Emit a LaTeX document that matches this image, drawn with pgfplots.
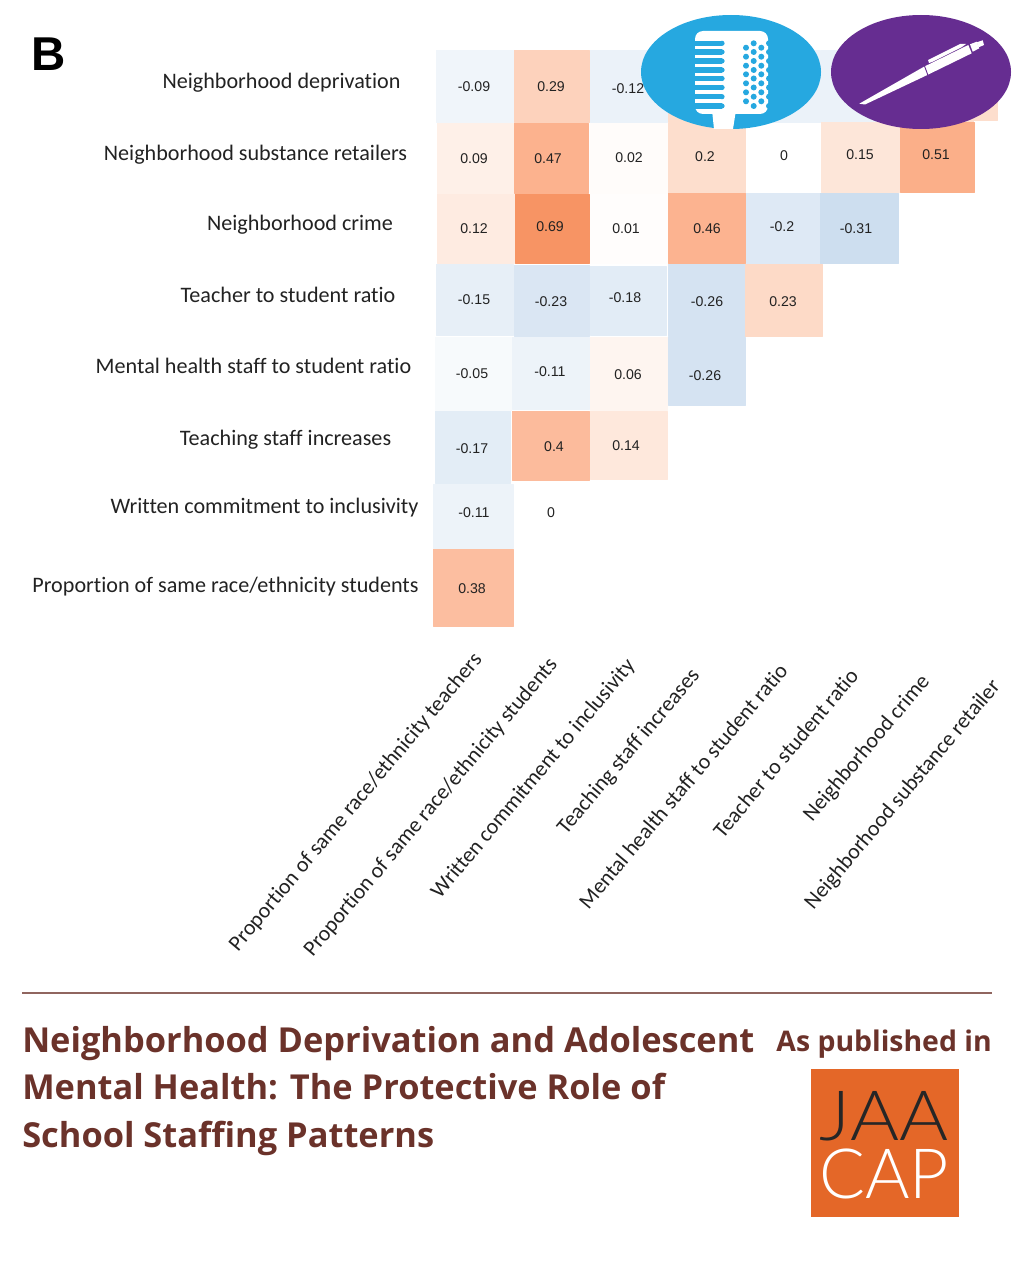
\documentclass[border=0pt]{standalone}
\usepackage{fontspec}
\usepackage{pgfplots}
\pgfplotsset{compat=1.18}
\setmainfont{Liberation Sans}
\newfontfamily\lab[Ligatures=NoCommon]{Carlito}
\newfontfamily\ttl{Open Sans}
\newfontfamily\logo{Lato Light}
\definecolor{brown1}{RGB}{107,50,42}
\definecolor{micblue}{RGB}{38,168,224}
\definecolor{penpurple}{RGB}{102,45,145}
\definecolor{logoorange}{RGB}{228,103,40}
\definecolor{ink}{RGB}{34,34,34}
\begin{document}
\begin{tikzpicture}
\begin{axis}[
  scale only axis, width=768pt, height=960pt,
  xmin=0, xmax=1024, ymin=0, ymax=1280, y dir=reverse,
  axis lines=none, clip=false,
  point meta min=-0.4, point meta max=0.69,
  colormap={corr}{rgb255(0)=(190,212,235) rgb255(40)=(255,255,255) rgb255(49)=(254,240,232) rgb255(60)=(253,222,205) rgb255(69)=(253,210,188) rgb255(78)=(252,190,160) rgb255(87)=(252,178,142) rgb255(91)=(251,175,137) rgb255(109)=(247,148,100)},
]
\path (axis cs:0,0) rectangle (axis cs:1024,1280);
% cells: left, top, right, bottom corners with the correlation as meta
\addplot[patch, patch type=rectangle, shader=flat, point meta=explicit] table[row sep=\\, meta=v] {
x y v\\
436 50 -0.09\\ 513 50 -0.09\\ 513 122 -0.09\\ 436 122 -0.09\\
514 50 0.29\\ 589 50 0.29\\ 589 122 0.29\\ 514 122 0.29\\
590 50 -0.12\\ 667 50 -0.12\\ 667 122 -0.12\\ 590 122 -0.12\\
668 50 0.2\\ 745 50 0.2\\ 745 122 0.2\\ 668 122 0.2\\
745 50 -0.12\\ 820 50 -0.12\\ 820 122 -0.12\\ 745 122 -0.12\\
821 50 -0.12\\ 897 50 -0.12\\ 897 122 -0.12\\ 821 122 -0.12\\
898 50 0.2\\ 973 50 0.2\\ 973 122 0.2\\ 898 122 0.2\\
973 50 0.2\\ 997 50 0.2\\ 997 120 0.2\\ 973 120 0.2\\
437 123 0.09\\ 513 123 0.09\\ 513 193 0.09\\ 437 193 0.09\\
514 123 0.47\\ 588 123 0.47\\ 588 193 0.47\\ 514 193 0.47\\
590 123 0.02\\ 667 123 0.02\\ 667 193 0.02\\ 590 193 0.02\\
668 123 0.2\\ 745 123 0.2\\ 745 193 0.2\\ 668 193 0.2\\
746 123 0\\ 821 123 0\\ 821 193 0\\ 746 193 0\\
821 122 0.15\\ 899 122 0.15\\ 899 192 0.15\\ 821 192 0.15\\
900 122 0.51\\ 974 122 0.51\\ 974 192 0.51\\ 900 192 0.51\\
437 194 0.12\\ 514 194 0.12\\ 514 263 0.12\\ 437 263 0.12\\
515 194 0.69\\ 589 194 0.69\\ 589 263 0.69\\ 515 263 0.69\\
590 194 0.01\\ 667 194 0.01\\ 667 263 0.01\\ 590 263 0.01\\
668 193 0.46\\ 745 193 0.46\\ 745 263 0.46\\ 668 263 0.46\\
746 193 -0.2\\ 820 193 -0.2\\ 820 263 -0.2\\ 746 263 -0.2\\
820 193 -0.31\\ 898 193 -0.31\\ 898 263 -0.31\\ 820 263 -0.31\\
436 264 -0.15\\ 513 264 -0.15\\ 513 335 -0.15\\ 436 335 -0.15\\
514 265 -0.23\\ 589 265 -0.23\\ 589 336 -0.23\\ 514 336 -0.23\\
590 266 -0.18\\ 666 266 -0.18\\ 666 335 -0.18\\ 590 335 -0.18\\
668 264 -0.26\\ 745 264 -0.26\\ 745 336 -0.26\\ 668 336 -0.26\\
745 264 0.23\\ 822 264 0.23\\ 822 336 0.23\\ 745 336 0.23\\
435 337 -0.05\\ 511 337 -0.05\\ 511 410 -0.05\\ 435 410 -0.05\\
512 337 -0.11\\ 589 337 -0.11\\ 589 409 -0.11\\ 512 409 -0.11\\
590 337 0.06\\ 667 337 0.06\\ 667 410 0.06\\ 590 410 0.06\\
668 337 -0.26\\ 745 337 -0.26\\ 745 405 -0.26\\ 668 405 -0.26\\
435 411 -0.17\\ 510 411 -0.17\\ 510 483 -0.17\\ 435 483 -0.17\\
512 411 0.4\\ 589 411 0.4\\ 589 480 0.4\\ 512 480 0.4\\
590 411 0.14\\ 667 411 0.14\\ 667 479 0.14\\ 590 479 0.14\\
433 484 -0.11\\ 513 484 -0.11\\ 513 548 -0.11\\ 433 548 -0.11\\
433 549 0.38\\ 513 549 0.38\\ 513 626 0.38\\ 433 626 0.38\\
};
% printed values
\addplot[draw=none, mark=none, point meta=explicit symbolic,
  nodes near coords, nodes near coords align={center},
  every node near coord/.append style={font=\fontsize{10.6pt}{12pt}\selectfont, text=ink, inner sep=0pt, anchor=center}]
coordinates {
(474,87)[-0.09] (551,87)[0.29] (628,89)[-0.12]
(474,159)[0.09] (548,159)[0.47] (629,158)[0.02] (705,157)[0.2] (784,156)[0] (860,155)[0.15] (936,155)[0.51]
(474,229)[0.12] (550,227)[0.69] (626,229)[0.01] (707,229)[0.46] (782,227)[-0.2] (856,229)[-0.31]
(474,300)[-0.15] (551,302)[-0.23] (625,298)[-0.18] (707,302)[-0.26] (783,302)[0.23]
(472,374)[-0.05] (550,372)[-0.11] (628,375)[0.06] (705,376)[-0.26]
(472,449)[-0.17] (554,447)[0.4] (626,446)[0.14]
(474,513)[-0.11] (551,513)[0]
(472,589)[0.38]
};
% row labels
\addplot[draw=none, mark=none, point meta=explicit symbolic,
  nodes near coords, nodes near coords align={center},
  every node near coord/.append style={font=\lab\fontsize{16.6pt}{18pt}\selectfont, text=ink, inner sep=0pt, anchor=center}]
coordinates {
(281.5,83)[Neighborhood deprivation]
(255.5,155)[Neighborhood substance retailers]
(300,225)[Neighborhood crime]
(288,295)[Teacher to student ratio]
(253.5,366)[Mental health staff to student ratio]
(285.5,440)[Teaching staff increases]
(264.5,508)[Written commitment to inclusivity]
(225.5,587)[Proportion of same race/ethnicity students]
};
% column labels
\addplot[draw=none, mark=none, point meta=explicit symbolic,
  nodes near coords, nodes near coords align={center},
  every node near coord/.append style={font=\lab\fontsize{16.4pt}{18pt}\selectfont, text=ink, inner sep=0pt, anchor=center, rotate=50}]
coordinates {
(356,802.5)[Proportion of same race/ethnicity teachers]
(431,807.5)[Proportion of same race/ethnicity students]
(533.5,779)[Written commitment to inclusivity]
(629,752)[Teaching staff increases]
(683,786)[Mental health staff to student ratio]
(785.5,753)[Teacher to student ratio]
(867,748.5)[Neighborhood crime]
(903,795)[Neighborhood substance retailer]
};
% panel letter
\node[font=\bfseries\fontsize{35.6pt}{36pt}\selectfont, inner sep=0pt, anchor=base west] at (axis cs:31,71) {B};
% microphone icon
\fill[micblue] (axis cs:731,72) ellipse [x radius=90, y radius=57];
\fill[white, rounded corners=6pt] (axis cs:695,31) rectangle (axis cs:768,114);
\fill[white] (axis cs:712,110) -- (axis cs:736,110) -- (axis cs:733,129) -- (axis cs:714,129) -- cycle;
\foreach \yy in {43.3,52,61,70,78.5,87.5,96.7,106} {
  \edef\tmp{\noexpand\draw[micblue, line width=3.9pt] (axis cs:694,\yy) -- (axis cs:722,\yy);
    \noexpand\fill[micblue] (axis cs:722,\yy) circle [radius=2.6];
    \noexpand\fill[micblue] (axis cs:753.7,\yy) circle [radius=3];
    \noexpand\fill[micblue] (axis cs:769,\yy) circle [radius=3];}
  \tmp
}
\foreach \yy in {47.7,56.7,65.7,74.3,83.3,92.3,101.3} {
  \edef\tmp{\noexpand\fill[micblue] (axis cs:746,\yy) circle [radius=3];
    \noexpand\fill[micblue] (axis cs:761.3,\yy) circle [radius=3];}
  \tmp
}
% pen icon
\fill[penpurple] (axis cs:921,72) ellipse [x radius=90, y radius=57];
\fill[white] (axis cs:859.3,103.7) -- (axis cs:924,66.7) -- (axis cs:968.3,45) -- (axis cs:971.7,53.3) -- (axis cs:927.3,75) -- (axis cs:865,104.5) -- cycle;
\draw[penpurple, line width=0.7pt] (axis cs:924.5,66) -- (axis cs:928,75.5);
\fill[white] (axis cs:970,44.3) -- (axis cs:976.7,41.7) -- (axis cs:979.3,48.3) -- (axis cs:972.7,51.7) -- cycle;
\fill[white] (axis cs:976.7,42.3) -- (axis cs:982.7,40.3) -- (axis cs:984,45) -- (axis cs:978.7,47.3) -- cycle;
\fill[white] (axis cs:928,60) -- (axis cs:960,44) -- (axis cs:966,44) -- (axis cs:962,47) -- (axis cs:932,62) -- (axis cs:929,63) -- cycle;
% rule and title
\draw[brown1!75!white, line width=0.8pt] (axis cs:22,993) -- (axis cs:992,993);
\node[font=\ttl\bfseries\fontsize{25.8pt}{30pt}\selectfont, text=brown1, inner sep=0pt, anchor=base west] at (axis cs:22,1052.5) {Neighborhood Deprivation and Adolescent};
\node[font=\ttl\bfseries\fontsize{25.8pt}{30pt}\selectfont, text=brown1, inner sep=0pt, anchor=base west] at (axis cs:22,1099.5) {Mental Health: The Protective Role of};
\node[font=\ttl\bfseries\fontsize{25.8pt}{30pt}\selectfont, text=brown1, inner sep=0pt, anchor=base west] at (axis cs:22,1147) {School Staffing Patterns};
\node[font=\ttl\bfseries\fontsize{21.3pt}{26pt}\selectfont, text=brown1, inner sep=0pt, anchor=base east] at (axis cs:992,1051) {As published in};
% logo
\fill[logoorange] (axis cs:811,1069) rectangle (axis cs:959,1217);
\node[font=\logo\fontsize{52pt}{52pt}\selectfont, text=black!85, inner sep=0pt, anchor=base] at (axis cs:884,1140) {\scalebox{1.08}[1]{JAA}};
\node[font=\logo\fontsize{52pt}{52pt}\selectfont, text=white, inner sep=0pt, anchor=base] at (axis cs:884,1198) {\scalebox{0.98}[1]{CAP}};
\end{axis}
\end{tikzpicture}
\end{document}
